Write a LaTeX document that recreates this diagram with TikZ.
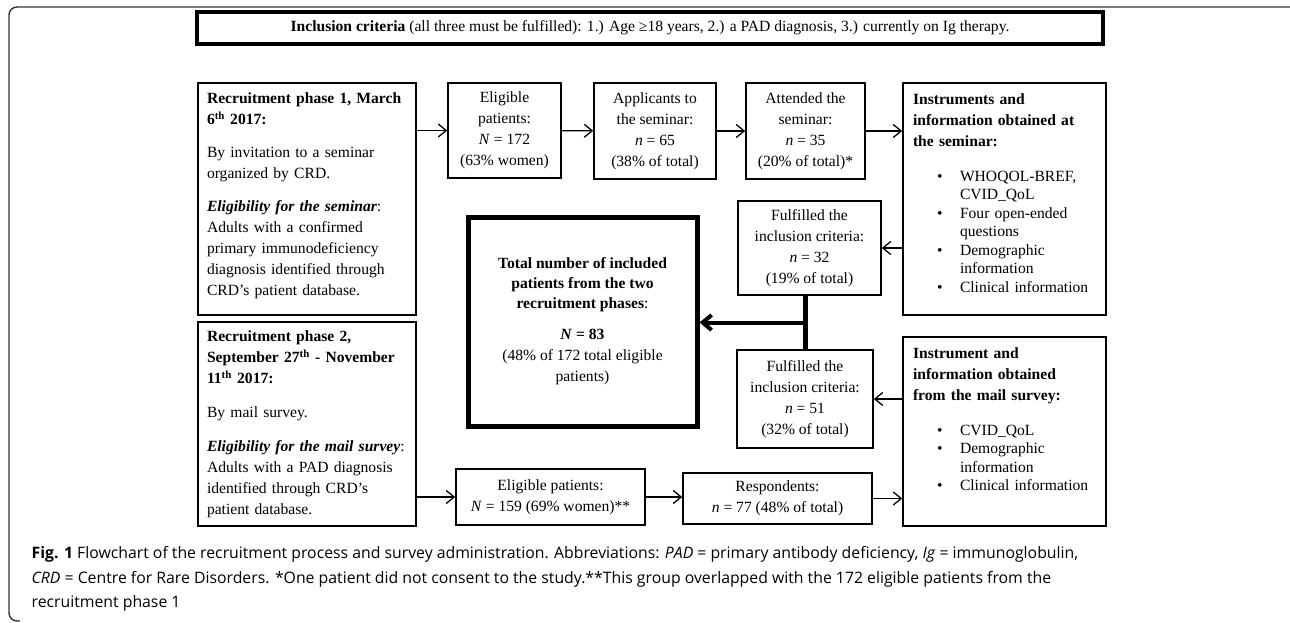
\documentclass[tikz,border=0pt]{standalone}
\usepackage{fontspec}
\setmainfont{Liberation Serif}
\newfontfamily\capfont{Open Sans}
\usetikzlibrary{arrows.meta}
\usetikzlibrary{calc}

\newcommand{\listdot}{\makebox[47pt][l]{\hspace{24pt}\textbullet}}
\newcommand{\listgap}{\hspace*{47pt}}

\begin{document}
\begin{tikzpicture}[x=1pt, y=-1pt, ->, >={Straight Barb[length=8pt,width=13pt]}, line width=1.3pt,
  font=\fontsize{15.6}{21}\selectfont,
  box/.style={draw, line width=1.5pt, align=center, inner sep=0pt},
  textbox/.style={box, text width=#1, align=left},
  heavy/.style={line width=#1}]
  \useasboundingbox (0,0) rectangle (1290,622);
  \draw[-, line width=1.4pt, rounded corners=8pt, black!80] (1290,7) -- (9,7) -- (9,621) -- (20,621);

  \node[box, line width=4pt, minimum width=906pt, minimum height=32pt] (crit) at (650,28)
    {\textbf{Inclusion criteria} (all three must be fulfilled): 1.) Age ≥18 years, 2.) a PAD diagnosis, 3.) currently on Ig therapy.};

  \node[textbox=200pt, minimum width=218pt, minimum height=232pt] (phase1) at (307,199)
    {\textbf{Recruitment phase 1, March\\ 6\textsuperscript{th} 2017:}\par\vspace{12pt}
     By invitation to a seminar\\ organized by CRD.\par\vspace{12pt}
     \textbf{\textit{Eligibility for the seminar}}:\\ Adults with a confirmed\\ primary immunodeficiency\\ diagnosis identified through\\ CRD’s patient database.\par\kern6pt};
  \node[box, minimum width=113pt, minimum height=95pt] (elig1) at (504.5,130.5)
    {Eligible\\ patients:\\ \textit{N} = 172\\ (63\% women)};
  \node[box, minimum width=122pt, minimum height=96pt] (appl) at (655,131)
    {Applicants to\\ the seminar:\\ \textit{n} = 65\\ (38\% of total)};
  \node[box, minimum width=119pt, minimum height=96pt] (attend) at (805.5,131)
    {Attended the\\ seminar:\\ \textit{n} = 35\\ (20\% of total)*};
  \node[textbox=183pt, minimum width=203pt, minimum height=232pt] (instr1) at (1004.5,199)
    {\textbf{Instruments and\\ information obtained at\\ the seminar:}\par\vspace{16pt}
     {\fontsize{15.6}{18.5}\selectfont
     \listdot WHOQOL-BREF,\\ \listgap CVID\_QoL\\
     \listdot Four open-ended\\ \listgap questions\\
     \listdot Demographic\\ \listgap information\\
     \listdot Clinical information\par}\kern12pt};
  \node[box, minimum width=143pt, minimum height=94pt] (ful1) at (809.5,248)
    {Fulfilled the\\ inclusion criteria:\\ \textit{n} = 32\\ (19\% of total)};

  \node[box, line width=5pt, minimum width=229pt, minimum height=209pt] (total) at (582.5,321.5)
    {\textbf{Total number of included}\\[-1pt] \textbf{patients from the two}\\[-1pt] \textbf{recruitment phases}:\\[10pt]
     \textbf{\textit{N} = 83}\\ (48\% of 172 total eligible\\ patients)};

  \node[box, minimum width=136pt, minimum height=98pt] (ful2) at (805,399)
    {Fulfilled the\\ inclusion criteria:\\ \textit{n} = 51\\ (32\% of total)};
  \node[textbox=200pt, minimum width=218pt, minimum height=204pt] (phase2) at (307,424)
    {\textbf{Recruitment phase 2,\\ September 27\textsuperscript{th} - November\\ 11\textsuperscript{th} 2017:}\par\vspace{13pt}
     By mail survey.\par\vspace{13pt}
     \textbf{\textit{Eligibility for the mail survey}}:\\ Adults with a PAD diagnosis\\ identified through CRD’s\\ patient database.};
  \node[box, minimum width=189pt, minimum height=56pt] (elig2) at (550.5,497)
    {Eligible patients:\\ \textit{N} = 159 (69\% women)**};
  \node[box, minimum width=189pt, minimum height=51pt] (resp) at (777.5,498.5)
    {Respondents:\\ \textit{n} = 77 (48\% of total)};
  \node[textbox=183pt, minimum width=203pt, minimum height=189pt] (instr2) at (1004.5,431.5)
    {\textbf{Instrument and\\ information obtained\\ from the mail survey:}\par\vspace{16pt}
     {\fontsize{15.6}{18.5}\selectfont
     \listdot CVID\_QoL\\
     \listdot Demographic\\ \listgap information\\
     \listdot Clinical information\par}\kern24pt};

  \draw (phase1.east |- elig1) -- (elig1);
  \draw (elig1) -- (appl);
  \draw (appl) -- (attend);
  \draw (attend) -- (attend -| instr1.west);
  \draw (instr1.west |- ful1) -- (ful1);
  \draw (instr2.west |- ful2) -- (ful2);
  \draw (phase2.east |- elig2) -- (elig2);
  \draw (elig2) -- (elig2 -| resp.west);
  \draw (resp) -- (resp -| instr2.west);
  \draw[-, heavy=5pt] (ful2.north |- ful1.south) -- (ful2.north); % barra tra i due criteri
  \coordinate (merge) at ($(ful2.north |- ful1.south)!0.5!(ful2.north)$);
  \draw[heavy=4pt, >={Straight Barb[length=9pt,width=15pt]}] (merge) -- (merge -| total.east);

  \node[anchor=north west, align=left, inner sep=0pt, font=\capfont\fontsize{15.8}{24.5}\selectfont] (caption) at (31,546)
    {\textbf{Fig. 1} Flowchart of the recruitment process and survey administration. Abbreviations: \textit{PAD} = primary antibody deficiency, \textit{Ig} = immunoglobulin,\\
     \textit{CRD} = Centre for Rare Disorders. *One patient did not consent to the study.**This group overlapped with the 172 eligible patients from the\\
     recruitment phase 1};
\end{tikzpicture}
\end{document}
